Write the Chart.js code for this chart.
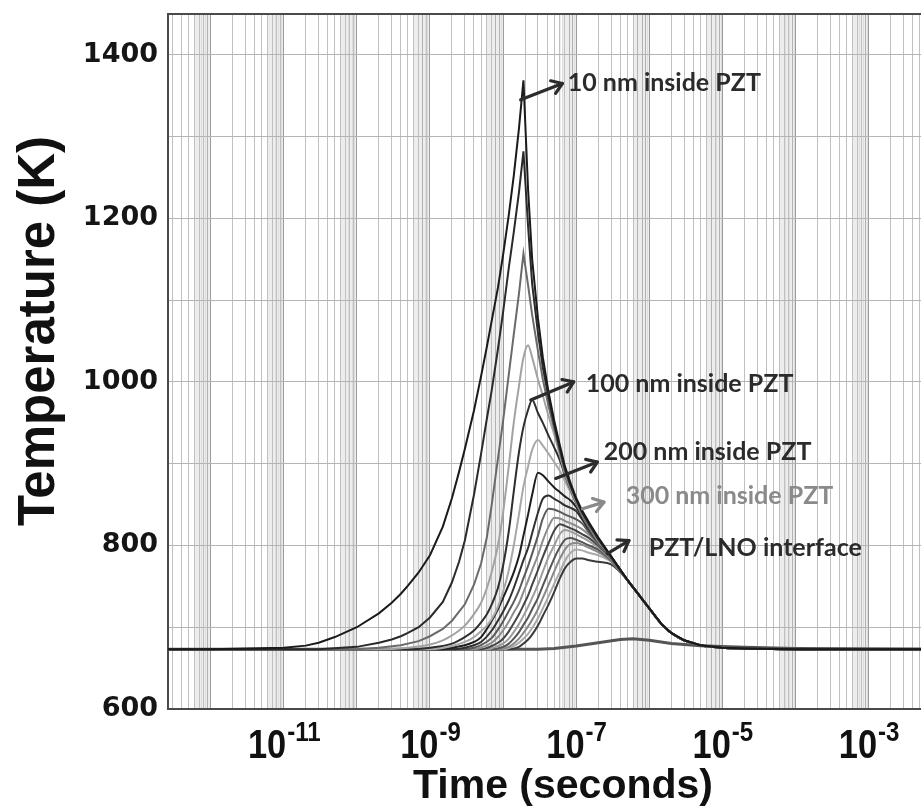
<!DOCTYPE html>
<html>
<head>
<meta charset="utf-8">
<script src="https://cdn.jsdelivr.net/npm/chart.js@4.4.1/dist/chart.umd.min.js"></script>
<style>
  body { margin: 0; background: #fff; }
  #wrap { width: 921px; height: 807px; position: relative; }
</style>
</head>
<body>
<div id="wrap"><canvas id="chart"></canvas></div>
<script>
// axis ranges (seconds, kelvin)
const xMin = 2.61e-13;
const xMax = 5.21e-3;
const yMin = 600;
const yMax = 1450;

const xLabelExponents = [-11, -9, -7, -5, -3];
const yLabelValues = [600, 800, 1000, 1200, 1400];

// [time (s), temperature (K)]
const startPoint = [[2.61e-13, 673]];

const curve1 = [[1e-12,673],[1e-11,675],[2e-11,677.5],[3e-11,681],[5e-11,688],[1e-10,700],[2e-10,717],[3e-10,730],[4e-10,741],[5e-10,751],[7e-10,767],[1e-9,788],[1.5e-9,823],[2e-9,858],[2.5e-9,890],[3e-9,918],[4e-9,965],[5e-9,1007],[6e-9,1043],[7e-9,1075],[8.5e-9,1115],[1e-8,1155],[1.2e-8,1205],[1.4e-8,1252],[1.65e-8,1310],[1.9e-8,1369],[2.2e-8,1235],[2.5e-8,1150],[3e-8,1078],[3.5e-8,1030],[4.2e-8,987],[5e-8,953],[6e-8,922],[7e-8,897],[8.4e-8,876],[1e-7,858],[1.2e-7,843],[1.5e-7,828],[2e-7,810],[3e-7,787]];
const curve2 = [[3e-11,673],[1e-10,676],[2e-10,681],[3e-10,685],[4e-10,689],[5e-10,693],[7e-10,700],[1e-9,712],[1.5e-9,731],[2e-9,755],[2.5e-9,780],[3e-9,806],[4e-9,862],[5e-9,912],[6e-9,955],[7e-9,990],[8.5e-9,1040],[1e-8,1085],[1.2e-8,1140],[1.4e-8,1183],[1.65e-8,1232],[1.9e-8,1282],[2.2e-8,1190],[2.5e-8,1120],[3e-8,1060],[3.5e-8,1018],[4.2e-8,980],[5e-8,948],[6e-8,918],[7e-8,894],[8.4e-8,873],[1e-7,856],[1.2e-7,841],[1.5e-7,826],[2e-7,808],[3e-7,786]];
const curve3 = [[1e-10,673],[2e-10,675],[4e-10,678],[7e-10,683],[1e-9,689],[1.5e-9,698],[2e-9,708],[3e-9,728],[4e-9,752],[5e-9,778],[6e-9,810],[7e-9,850],[8.5e-9,906],[1e-8,952],[1.2e-8,1010],[1.4e-8,1058],[1.65e-8,1108],[1.9e-8,1157],[2.2e-8,1118],[2.5e-8,1082],[3e-8,1038],[3.5e-8,1003],[4.2e-8,970],[5e-8,943],[6e-8,914],[7e-8,891],[8.4e-8,871],[1e-7,855],[1.2e-7,840],[1.5e-7,825],[2e-7,807],[3e-7,786]];
const curve4 = [[2e-10,673],[5e-10,675],[1e-9,679],[1.5e-9,684],[2e-9,690],[3e-9,702],[4e-9,716],[5e-9,730],[6e-9,748],[7e-9,768],[8.5e-9,800],[1e-8,840],[1.2e-8,898],[1.4e-8,950],[1.65e-8,995],[1.9e-8,1030],[2.2e-8,1045],[2.5e-8,1030],[3e-8,1003],[3.5e-8,983],[4.2e-8,958],[5e-8,936],[6e-8,910],[7e-8,888],[8.4e-8,869],[1e-7,853],[1.2e-7,839],[1.5e-7,824],[2e-7,806],[3e-7,786]];
const curve5 = [[5e-10,673],[1e-9,675],[2e-9,680],[3e-9,688],[4e-9,696],[5e-9,706],[6e-9,716],[7e-9,728],[8.5e-9,748],[1e-8,775],[1.2e-8,818],[1.4e-8,866],[1.65e-8,914],[1.9e-8,945],[2.2e-8,966],[2.5e-8,978],[3e-8,962],[3.5e-8,950],[4.2e-8,934],[5e-8,920],[6e-8,904],[7e-8,886],[8.4e-8,868],[1e-7,852],[1.2e-7,838],[1.5e-7,823],[2e-7,806],[3e-7,786]];
const curve6 = [[1e-9,673],[2e-9,677],[3e-9,682],[4e-9,688],[5e-9,695],[6e-9,702],[7e-9,710],[8.5e-9,725],[1e-8,743],[1.2e-8,770],[1.4e-8,800],[1.65e-8,838],[1.9e-8,872],[2.2e-8,897],[2.5e-8,917],[3e-8,929],[3.5e-8,922],[4.2e-8,912],[5e-8,902],[6e-8,891],[7e-8,879],[8.4e-8,865],[1e-7,851],[1.2e-7,837],[1.5e-7,822],[2e-7,805],[3e-7,786]];
const curve7 = [[1.5e-9,673],[2e-9,675],[3e-9,678],[4e-9,682],[5e-9,688],[7e-9,708],[8.5e-9,722],[1e-8,736],[1.2e-8,752],[1.4e-8,767],[1.65e-8,787],[1.9e-8,812],[2.2e-8,838],[2.5e-8,862],[3e-8,889],[3.5e-8,886],[4.2e-8,878],[5e-8,871],[6e-8,865],[7e-8,860],[8.4e-8,855],[1e-7,847],[1.2e-7,835],[1.5e-7,821],[2e-7,805],[3e-7,786]];
const curve8 = [[2e-9,673],[3e-9,675],[4e-9,678],[5e-9,682],[7e-9,696],[8.5e-9,708],[1e-8,719],[1.2e-8,733],[1.4e-8,748],[1.65e-8,766],[1.9e-8,782],[2.2e-8,797],[2.5e-8,815],[3e-8,840],[3.5e-8,857],[4.2e-8,861],[5e-8,857],[6e-8,853],[7e-8,849],[8.4e-8,846],[1e-7,842],[1.2e-7,832],[1.5e-7,819],[2e-7,804],[3e-7,785]];
const curve9 = [[3e-9,673],[4e-9,675],[5e-9,678],[7e-9,687],[8.5e-9,697],[1e-8,707],[1.2e-8,720],[1.4e-8,731],[1.65e-8,745],[1.9e-8,760],[2.2e-8,775],[2.5e-8,790],[3e-8,812],[3.5e-8,833],[4.2e-8,845],[5e-8,844],[6e-8,841],[7e-8,838],[8.4e-8,835],[1e-7,832],[1.2e-7,827],[1.5e-7,816],[2e-7,803],[3e-7,785]];
const curve10 = [[4e-9,673],[5e-9,675],[7e-9,681],[8.5e-9,688],[1e-8,696],[1.2e-8,707],[1.4e-8,718],[1.65e-8,729],[1.9e-8,743],[2.2e-8,757],[2.5e-8,770],[3e-8,788],[3.5e-8,806],[4.2e-8,823],[5e-8,834],[6e-8,833],[7e-8,830],[8.4e-8,827],[1e-7,824],[1.2e-7,820],[1.5e-7,813],[2e-7,802],[3e-7,784]];
const curve11 = [[5e-9,673],[7e-9,677],[8.5e-9,681],[1e-8,686],[1.2e-8,695],[1.4e-8,705],[1.65e-8,716],[1.9e-8,727],[2.2e-8,739],[2.5e-8,752],[3e-8,770],[3.5e-8,786],[4.2e-8,803],[5e-8,818],[6e-8,826],[7e-8,824],[8.4e-8,821],[1e-7,818],[1.2e-7,814],[1.5e-7,809],[2e-7,800],[3e-7,784]];
const curve12 = [[6e-9,673],[8.5e-9,677],[1e-8,680],[1.2e-8,686],[1.4e-8,694],[1.65e-8,704],[1.9e-8,714],[2.2e-8,725],[2.5e-8,736],[3e-8,752],[3.5e-8,768],[4.2e-8,786],[5e-8,800],[6e-8,814],[7e-8,819],[8.4e-8,817],[1e-7,814],[1.2e-7,810],[1.5e-7,805],[2e-7,798],[3e-7,783]];
const curve13 = [[7e-9,673],[1e-8,676],[1.2e-8,680],[1.4e-8,686],[1.65e-8,694],[1.9e-8,703],[2.2e-8,712],[2.5e-8,722],[3e-8,736],[3.5e-8,751],[4.2e-8,768],[5e-8,784],[6e-8,798],[7e-8,807],[8.4e-8,809],[1e-7,807],[1.2e-7,804],[1.5e-7,800],[2e-7,795],[3e-7,782]];
const curve14 = [[8.5e-9,673],[1.2e-8,676],[1.4e-8,680],[1.65e-8,686],[1.9e-8,693],[2.2e-8,701],[2.5e-8,709],[3e-8,722],[3.5e-8,736],[4.2e-8,752],[5e-8,768],[6e-8,784],[7e-8,795],[8.4e-8,802],[1e-7,803],[1.2e-7,801],[1.5e-7,797],[2e-7,792],[3e-7,781]];
const curve15 = [[1e-8,673],[1.4e-8,677],[1.65e-8,681],[1.9e-8,686],[2.2e-8,692],[2.5e-8,699],[3e-8,711],[3.5e-8,723],[4.2e-8,738],[5e-8,753],[6e-8,768],[7e-8,781],[8.4e-8,791],[1e-7,795],[1.2e-7,794],[1.5e-7,791],[2e-7,788],[3e-7,780]];
const curve16 = [[1.2e-8,673],[1.65e-8,676],[1.9e-8,680],[2.2e-8,685],[2.5e-8,691],[3e-8,702],[3.5e-8,714],[4.2e-8,728],[5e-8,743],[6e-8,760],[7e-8,772],[8.4e-8,780],[1e-7,784],[1.2e-7,784],[1.5e-7,782],[2e-7,780],[3e-7,777]];

// common cooling tail that every curve above shares
const coolingTail = [[5e-7,758],[7e-7,741],[1e-6,723],[1.5e-6,703],[2e-6,693],[3e-6,684],[5e-6,678],[1e-5,675],[2e-5,674],[1e-4,673],[1e-3,673],[5.21e-3,673]];

// bottom curve with the small bump
const flatCurve = [[2.61e-13,673],[3e-8,673],[5e-8,674],[1e-7,677],[2e-7,681],[4e-7,685],[6e-7,686],[1e-6,684],[2e-6,680],[5e-6,677.5],[2e-5,675.5],[1e-4,674],[5.21e-3,673.3]];

const curves = [curve1, curve2, curve3, curve4, curve5, curve6, curve7, curve8,
                curve9, curve10, curve11, curve12, curve13, curve14, curve15, curve16];
const curveColors = ['#1a1a1a', '#2a2a2a', '#6a6a6a', '#a2a2a2', '#2e2e2e', '#a8a8a8', '#1e1e1e', '#303030',
                     '#5a5a5a', '#8c8c8c', '#444444', '#9c9c9c', '#555555', '#888888', '#aaaaaa', '#3a3a3a'];
// the first three peaks are sharp spikes, the rest are rounded
const sharpPeaks = 3;

// annotations: label, colour, arrow tail, arrow head, text anchor (left, middle)
const notes = [
    { text: '10 nm inside PZT',  color: '#2b2b2b', from: [1.74e-8, 1345], to: [6.47e-8, 1365], at: [7.66e-8, 1366] },
    { text: '100 nm inside PZT', color: '#2b2b2b', from: [2.39e-8, 978],  to: [9.25e-8, 1000], at: [1.35e-7, 998] },
    { text: '200 nm inside PZT', color: '#2b2b2b', from: [5.25e-8, 882],  to: [1.95e-7, 902],  at: [2.38e-7, 914] },
    { text: '300 nm inside PZT', color: '#8a8a8a', from: [1.22e-7, 845],  to: [2.40e-7, 853],  at: [4.75e-7, 861] },
    { text: 'PZT/LNO interface', color: '#2b2b2b', from: [2.67e-7, 790],  to: [5.27e-7, 806],  at: [9.82e-7, 797] }
];

function toXY(pts) {
    return pts.map(p => ({ x: p[0], y: p[1] }));
}

const datasets = curves.map((pts, i) => ({
    data: toXY(startPoint.concat(pts, coolingTail)),
    borderColor: curveColors[i],
    borderWidth: 2,
    pointRadius: 0,
    fill: false,
    tension: 0,
    cubicInterpolationMode: i < sharpPeaks ? 'default' : 'monotone'
}));
datasets.push({
    data: toXY(flatCurve),
    borderColor: '#555555',
    borderWidth: 3,
    pointRadius: 0,
    fill: false,
    tension: 0
});

// log grid: decades, 2..9, plus fine lines near the top of each decade
function buildLogGrid(scale) {
    const ticks = [];
    for (let e = -13; e <= -3; e++) {
        for (let m = 1; m <= 9; m++) {
            ticks.push({ value: m * Math.pow(10, e), kind: m === 1 ? 'major' : 'minor' });
        }
        for (let f = 6.2; f < 9.99; f += 0.2) {
            if (Math.abs(f - Math.round(f)) > 0.01) {
                ticks.push({ value: f * Math.pow(10, e), kind: 'fine' });
            }
        }
    }
    scale.ticks = ticks.filter(t => t.value >= xMin && t.value <= xMax);
}

function gridColor(ctx) {
    const t = ctx.tick;
    if (!t) return 'rgba(0,0,0,0)';
    if (t.kind === 'major') return '#9c9c9c';
    if (t.kind === 'minor') return '#c0c0c0';
    return 'rgba(0,0,0,0.07)';
}

function drawArrow(ctx, x1, y1, x2, y2, color) {
    const ang = Math.atan2(y2 - y1, x2 - x1);
    const head = 12;
    ctx.strokeStyle = color;
    ctx.lineWidth = 3.2;
    ctx.lineCap = 'round';
    ctx.lineJoin = 'round';
    ctx.beginPath();
    ctx.moveTo(x1, y1);
    ctx.lineTo(x2, y2);
    ctx.stroke();
    ctx.beginPath();
    ctx.moveTo(x2 - head * Math.cos(ang - 0.6), y2 - head * Math.sin(ang - 0.6));
    ctx.lineTo(x2, y2);
    ctx.lineTo(x2 - head * Math.cos(ang + 0.6), y2 - head * Math.sin(ang + 0.6));
    ctx.stroke();
}

const decorPlugin = {
    id: 'decor',
    afterDraw(chart) {
        const { ctx, chartArea, scales } = chart;
        const x = scales.x;
        const y = scales.y;
        ctx.save();

        // top frame line
        ctx.strokeStyle = '#4a4a4a';
        ctx.lineWidth = 2;
        ctx.beginPath();
        ctx.moveTo(chartArea.left, chartArea.top);
        ctx.lineTo(chartArea.right, chartArea.top);
        ctx.stroke();

        // annotations
        notes.forEach(n => {
            drawArrow(ctx, x.getPixelForValue(n.from[0]), y.getPixelForValue(n.from[1]),
                x.getPixelForValue(n.to[0]), y.getPixelForValue(n.to[1]), n.color);
            ctx.fillStyle = n.color;
            ctx.font = 'bold 25px Lato, "Open Sans", sans-serif';
            ctx.textAlign = 'left';
            ctx.textBaseline = 'middle';
            ctx.fillText(n.text, x.getPixelForValue(n.at[0]), y.getPixelForValue(n.at[1]));
        });

        // x tick labels: 10 with superscript exponent, narrow bold
        ctx.fillStyle = '#111';
        ctx.textBaseline = 'alphabetic';
        ctx.textAlign = 'left';
        const squeeze = 0.86;
        const baseY = 758;
        const baseFont = 'bold 40px "Liberation Sans", Arial, sans-serif';
        const expFont = 'bold 28px "Liberation Sans", Arial, sans-serif';
        xLabelExponents.forEach(e => {
            const px = x.getPixelForValue(Math.pow(10, e));
            const expText = '-' + Math.abs(e);
            ctx.font = baseFont;
            const wBase = ctx.measureText('10').width * squeeze;
            ctx.font = expFont;
            const wExp = ctx.measureText(expText).width * squeeze;
            const left = px - (wBase + wExp) / 2;
            ctx.save();
            ctx.translate(left, baseY);
            ctx.scale(squeeze, 1);
            ctx.font = baseFont;
            ctx.fillText('10', 0, 0);
            ctx.restore();
            ctx.save();
            ctx.translate(left + wBase + 1, baseY - 17);
            ctx.scale(squeeze, 1);
            ctx.font = expFont;
            ctx.fillText(expText, 0, 0);
            ctx.restore();
        });

        // axis titles
        ctx.fillStyle = '#111';
        ctx.textAlign = 'center';
        ctx.textBaseline = 'middle';
        ctx.font = 'bold 41px "Liberation Sans", Arial, sans-serif';
        ctx.fillText('Time (seconds)', 563, 787);
        ctx.save();
        ctx.translate(40, 331);
        ctx.rotate(-Math.PI / 2);
        ctx.font = 'bold 51px "Liberation Sans", Arial, sans-serif';
        ctx.fillText('Temperature (K)', 0, 0);
        ctx.restore();

        ctx.restore();
    }
};

const ctx = document.getElementById('chart').getContext('2d');
new Chart(ctx, {
    type: 'line',
    data: { datasets: datasets },
    options: {
        responsive: true,
        maintainAspectRatio: false,
        animation: false,
        events: [],
        layout: { padding: { top: 14, right: 0, left: 0, bottom: 0 } },
        scales: {
            x: {
                type: 'logarithmic',
                min: xMin,
                max: xMax,
                afterBuildTicks: buildLogGrid,
                afterFit: s => { s.height = 98; s.paddingLeft = 0; s.paddingRight = 0; },
                ticks: { display: false, autoSkip: false },
                grid: { color: gridColor, lineWidth: 1, drawTicks: false },
                border: { display: true, color: '#4a4a4a', width: 2 }
            },
            y: {
                min: yMin,
                max: yMax,
                // keep the plot frame where the figure has it
                afterFit: s => { s.width = 168; s.paddingTop = 0; s.paddingBottom = 0; },
                ticks: {
                    stepSize: 100,
                    padding: 10,
                    color: '#151515',
                    font: { family: '"DejaVu Sans", Verdana, sans-serif', weight: 'bold', size: 27 },
                    callback: v => (yLabelValues.includes(v) ? String(v) : '')
                },
                grid: { color: '#b4b4b4', lineWidth: 1, drawTicks: false },
                border: { display: true, color: '#4a4a4a', width: 2 }
            }
        },
        plugins: {
            legend: { display: false },
            tooltip: { enabled: false }
        }
    },
    plugins: [decorPlugin]
});
</script>
</body>
</html>
